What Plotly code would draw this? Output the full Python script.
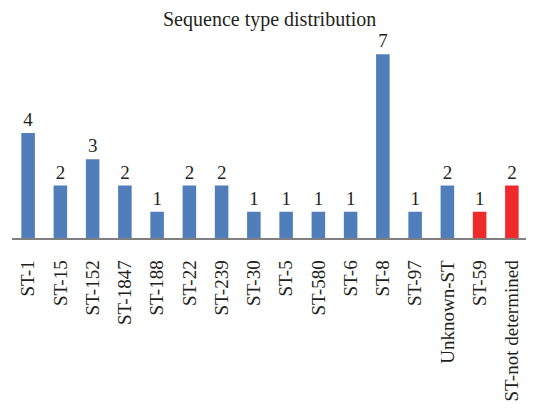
import plotly.graph_objects as go

categories = ["ST-1", "ST-15", "ST-152", "ST-1847", "ST-188", "ST-22", "ST-239", "ST-30",
              "ST-5", "ST-580", "ST-6", "ST-8", "ST-97", "Unknown-ST", "ST-59", "ST-not determined"]
counts = [4, 2, 3, 2, 1, 2, 2, 1, 1, 1, 1, 7, 1, 2, 1, 2]
bar_colors = ["#4F7EBA"] * 14 + ["#EE2A2A"] * 2

font_family = "Liberation Serif, DejaVu Serif, serif"

fig = go.Figure(go.Bar(
    x=categories,
    y=counts,
    marker=dict(color=bar_colors, line=dict(width=0)),
    text=[str(c) for c in counts],
    textposition="outside",
    textfont=dict(family=font_family, size=19, color="#231F20"),
    cliponaxis=False,
))

fig.update_layout(
    width=534,
    height=410,
    margin=dict(l=4, r=14, t=20, b=180),
    paper_bgcolor="white",
    plot_bgcolor="white",
    bargap=0.58,
    showlegend=False,
    title=dict(
        text="Sequence type distribution",
        font=dict(family=font_family, size=20, color="#231F20"),
        x=0.49, xanchor="center",
        y=1 - 11 / 410, yanchor="middle", yref="container",
    ),
    xaxis=dict(
        type="category",
        tickangle=-90,
        tickfont=dict(family=font_family, size=19, color="#231F20"),
        showline=True,
        linecolor="#7F7F7F",
        linewidth=1.5,
        showgrid=False,
        ticks="",
        ticklabelstandoff=13,
        automargin=False,
    ),
    yaxis=dict(
        range=[0, 8],
        visible=False,
        showgrid=False,
        zeroline=False,
    ),
)

fig.write_html("out.html")
